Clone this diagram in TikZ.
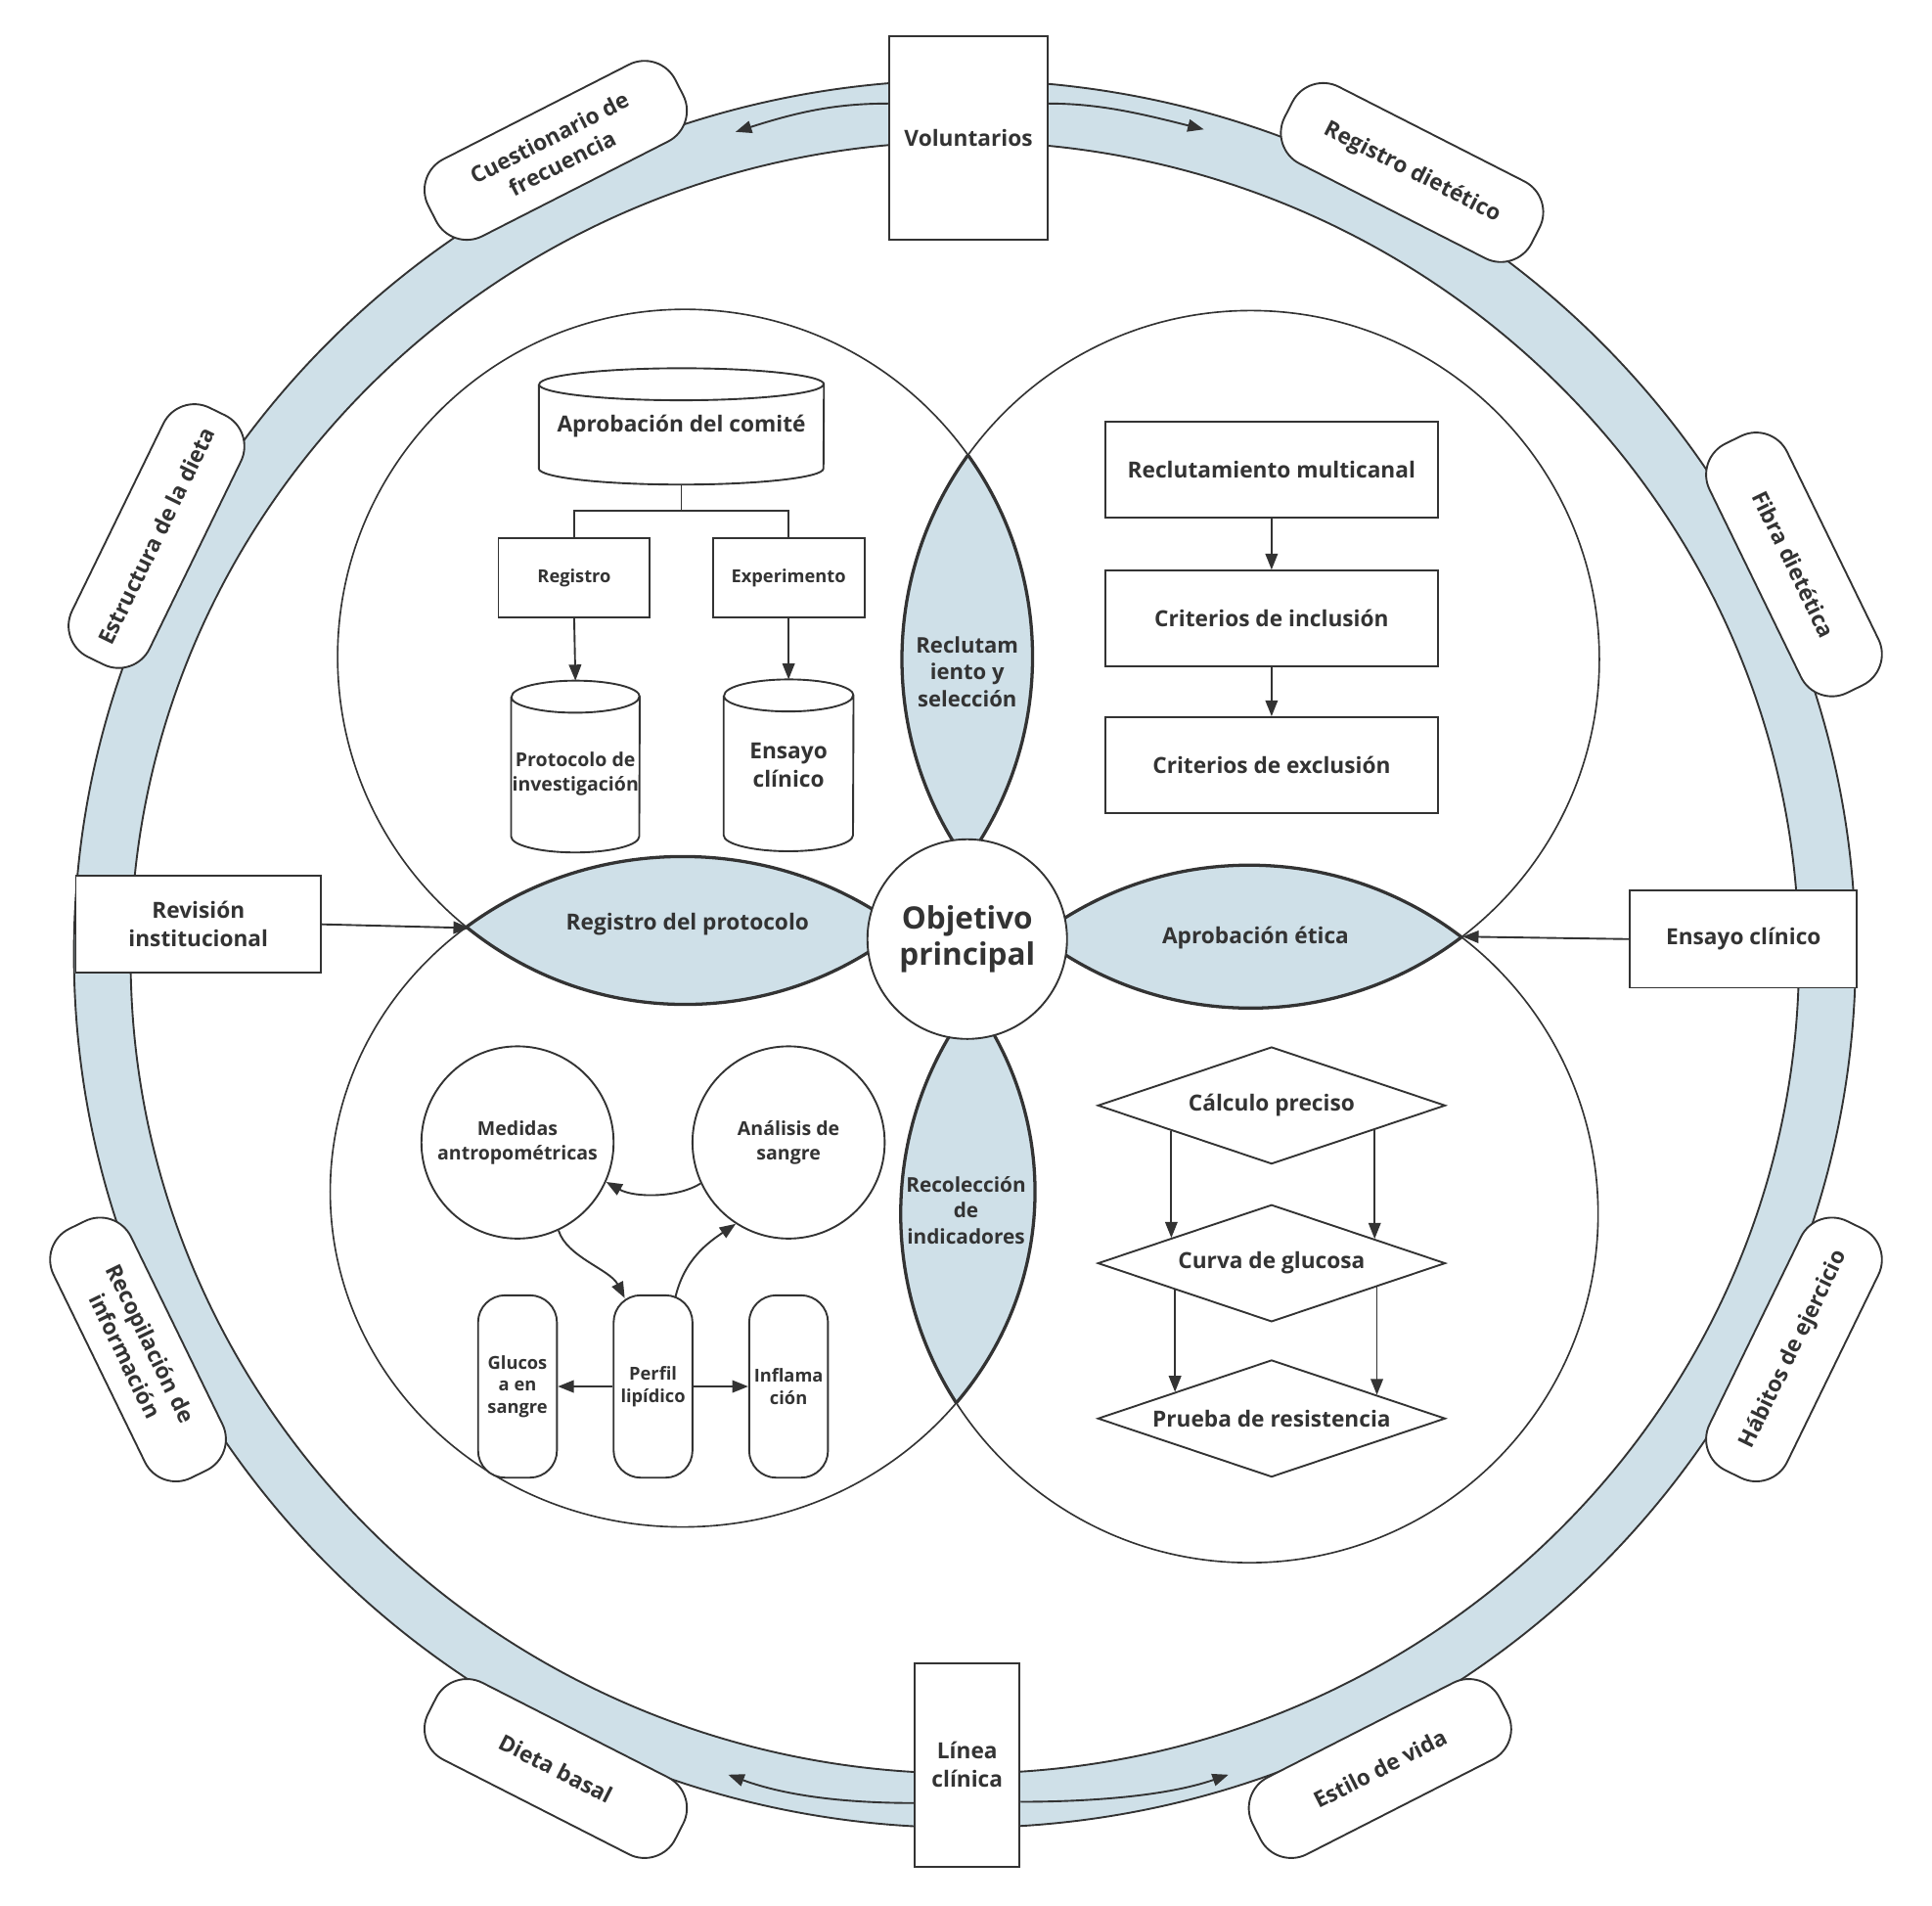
\documentclass[tikz,border=0pt]{standalone}
\usepackage{fontspec}
\setmainfont{Open Sans}
\usetikzlibrary{shapes.geometric,arrows.meta,calc}
\definecolor{ringblue}{HTML}{CFE0E8}
\definecolor{ink}{HTML}{333333}
\newcommand\fA{\fontsize{18}{23}\selectfont\bfseries}
\newcommand\fL{\fontsize{17.5}{22}\selectfont\bfseries}
\newcommand\fLb{\fontsize{16.5}{21}\selectfont\bfseries}
\newcommand\fObj{\fontsize{25}{30}\selectfont\bfseries}
\newcommand\fS{\fontsize{14.5}{18}\selectfont\bfseries}
\newcommand\fM{\fontsize{15.5}{20}\selectfont\bfseries}
% cylinder outline around a named (undrawn) node: name, half width, end radius
\newcommand\drawcyl[3]{%
  \draw[conn]
    ([yshift=-#3pt]#1.north west) -- ([yshift=#3pt]#1.south west)
    arc[start angle=180, end angle=360, x radius=#2pt, y radius=#3pt]
    -- ([yshift=-#3pt]#1.north east)
    arc[start angle=0, end angle=180, x radius=#2pt, y radius=#3pt]
    ([yshift=-#3pt]#1.north west)
    arc[start angle=180, end angle=360, x radius=#2pt, y radius=#3pt];}
\begin{document}
\begin{tikzpicture}[x=1pt,y=-1pt,color=ink,
  conn/.style={line width=1.5pt},
  lens/.style={line width=2.6pt},
  box/.style={draw, fill=white, line width=1.5pt, align=center, inner sep=0pt, font=\fA},
  pill/.style={box, rounded corners=28pt, minimum width=225pt, minimum height=70pt},
  tag/.style={align=center, inner sep=0pt, font=\fA},
  dia/.style={diamond, draw, fill=white, aspect=2.97, minimum width=282pt, minimum height=95pt, inner sep=0pt, line width=1.5pt, font=\fA},
  tube/.style={box, rounded corners=22pt, minimum width=64pt, minimum height=148pt, font=\fS},
  arr/.style={line width=1.5pt, -{Triangle[length=13pt,width=10pt]}}]
\fill[white] (0,0) rectangle (1568,1546);
\useasboundingbox (0,0) rectangle (1568,1546);

% outer ring
\fill[ringblue, even odd rule] (783,774) ellipse[x radius=723, y radius=709] (783,777) ellipse[x radius=677, y radius=662];
\draw[conn] (783,774) ellipse[x radius=723, y radius=709];
\draw[conn] (783,777) ellipse[x radius=677, y radius=662];

% four circles
\coordinate (cTL) at (556,533);
\coordinate (cTR) at (1015,535);
\coordinate (cBL) at (554,967);
\coordinate (cBR) at (1014,985);
\draw[line width=1.3pt] (cTL) circle[radius=282];
\draw[line width=1.3pt] (cTR) circle[radius=283];
\draw[line width=1.3pt] (cBL) ellipse[x radius=286, y radius=272];
\draw[line width=1.3pt] (cBR) circle[radius=283];

% lens fills
\begin{scope}
  \clip (cTL) circle[radius=282];
  \fill[ringblue] (cTR) circle[radius=283];
  \fill[ringblue] (cBL) ellipse[x radius=286, y radius=272];
\end{scope}
\begin{scope}
  \clip (cBR) circle[radius=283];
  \fill[ringblue] (cTR) circle[radius=283];
  \fill[ringblue] (cBL) ellipse[x radius=286, y radius=272];
\end{scope}
% lens outlines
\begin{scope}
  \clip (cTL) circle[radius=282];
  \draw[lens] (cTR) circle[radius=283];
  \draw[lens] (cBL) ellipse[x radius=286, y radius=272];
\end{scope}
\begin{scope}
  \clip (cBR) circle[radius=283];
  \draw[lens] (cTR) circle[radius=283];
  \draw[lens] (cBL) ellipse[x radius=286, y radius=272];
\end{scope}
\begin{scope}
  \clip (cTR) circle[radius=283];
  \draw[lens] (cTL) circle[radius=282];
  \draw[lens] (cBR) circle[radius=283];
\end{scope}
\begin{scope}
  \clip (cBL) ellipse[x radius=286, y radius=272];
  \draw[lens] (cTL) circle[radius=282];
  \draw[lens] (cBR) circle[radius=283];
\end{scope}

% lens labels
\node[tag, font=\fL] (lbT) at (785,545) {Reclutam\\iento y\\selección};
\node[tag] (lbL) at (558,750) {Registro del protocolo};
\node[tag] (lbR) at (1019,761) {Aprobación ética};
\node[tag, font=\fLb] (lbB) at (784,982) {Recolección\\de\\indicadores};

% centre
\node[circle, draw, fill=white, minimum size=162pt, inner sep=0pt, line width=1.5pt, font=\fObj, align=center] (obj) at (785,762) {Objetivo\\principal};

% top-left quadrant
\node[tag, minimum width=231pt, minimum height=94pt] (apro) at (553,346) {Aprobación del comité};
\drawcyl{apro}{115.5}{13}
\node[box, minimum width=123pt, minimum height=64pt, font=\fS] (reg) at (466,469) {Registro};
\node[box, minimum width=123pt, minimum height=64pt, font=\fS] (exper) at (640,469) {Experimento};
\node[minimum width=104pt, minimum height=139pt, inner sep=0pt] (prot) at (467,622) {};
\drawcyl{prot}{52}{13}
\node[tag, font=\fM] (protT) at (467,628) {Protocolo de\\investigación};
\node[tag, minimum width=105pt, minimum height=139pt, font=\fA] (ensc) at (640,621) {Ensayo\\clínico};
\drawcyl{ensc}{52.5}{13}
\draw[conn] (apro.south) -- ++(0,21) coordinate (fork);
\draw[conn] (fork) -| (reg.north);
\draw[conn] (fork) -| (exper.north);
\draw[arr] (reg.south) -- (prot.north);
\draw[arr] (exper.south) -- (ensc.north);

% top-right quadrant
\node[box, minimum width=270pt, minimum height=78pt] (rm) at (1032,381) {Reclutamiento multicanal};
\node[box, minimum width=270pt, minimum height=78pt] (ci) at (1032,502) {Criterios de inclusión};
\node[box, minimum width=270pt, minimum height=78pt] (ce) at (1032,621) {Criterios de exclusión};
\draw[arr] (rm) -- (ci);
\draw[arr] (ci) -- (ce);

% bottom-right quadrant
\node[dia] (d1) at (1032,897) {Cálculo preciso};
\node[dia] (d2) at (1032,1025) {Curva de glucosa};
\node[dia] (d3) at (1032,1151) {Prueba de resistencia};
\draw[arr] ($(d1.west)!0.426!(d1.south)$) -- ($(d2.west)!0.426!(d2.north)$);
\draw[arr] ($(d1.east)!0.41!(d1.south)$) -- ($(d2.east)!0.41!(d2.north)$);
\draw[arr] ($(d2.west)!0.447!(d2.south)$) -- ($(d3.west)!0.447!(d3.north)$);
\draw[arr] ($(d2.east)!0.397!(d2.south)$) -- ($(d3.east)!0.397!(d3.north)$);

% bottom-left quadrant
\node[circle, draw, minimum size=156pt, inner sep=0pt, line width=1.5pt, font=\fM, align=center] (med) at (420,927) {Medidas\\antropométricas};
\node[circle, draw, minimum size=156pt, inner sep=0pt, line width=1.5pt, font=\fM, align=center] (ana) at (640,927) {Análisis de\\sangre};
\node[tube] (glu) at (420,1125) {Glucos\\a en\\sangre};
\node[tube] (perf) at (530,1125) {Perfil\\lipídico};
\node[tube] (inf) at (640,1125) {Inflama\\ción};
\draw[arr] (ana.205) .. controls (550,972) and (515,972) .. (med.336);
\draw[arr] (med.295) .. controls (460,1020) and (495,1030) .. ([xshift=-23pt,yshift=-3pt]perf.north);
\draw[arr] ([xshift=18pt,yshift=-3pt]perf.north) .. controls (555,1022) and (575,1008) .. (ana.237);
\draw[arr] (perf.west) -- (glu.east);
\draw[arr] (perf.east) -- (inf.west);

% ring nodes
\node[box, minimum width=128pt, minimum height=165pt] (vol) at (786,112) {Voluntarios};
\node[box, minimum width=85pt, minimum height=165pt] (lin) at (785,1432) {Línea\\clínica};
\node[box, minimum width=199pt, minimum height=79pt] (rev) at (161,750) {Revisión\\institucional};
\node[box, minimum width=184pt, minimum height=79pt] (ens) at (1415,762) {Ensayo clínico};

\node[pill, rotate=27] (cue) at (451,122) {Cuestionario de\\frecuencia};
\node[pill, rotate=-27] (regd) at (1146,140) {Registro dietético};
\node[pill, rotate=64] (estr) at (127,435) {Estructura de la dieta};
\node[pill, rotate=-64] (fib) at (1456,458) {Fibra dietética};
\node[pill, rotate=-64] (reco) at (112,1095) {Recopilación de\\información};
\node[pill, rotate=64] (hab) at (1456,1095) {Hábitos de ejercicio};
\node[pill, rotate=-27] (dieta) at (451,1435) {Dieta basal};
\node[pill, rotate=27] (estv) at (1120,1435) {Estilo de vida};

% ring connectors
\coordinate (volLt) at (597,107);
\coordinate (volRt) at (977,105);
\coordinate (linLt) at (591,1440);
\coordinate (linRt) at (997,1440);
\draw[arr] ([yshift=28pt]vol.west) .. controls (680,84) and (650,90) .. (volLt);
\draw[arr] ([yshift=28pt]vol.east) .. controls (892,84) and (925,92) .. (volRt);
\draw[arr] ([yshift=-31pt]lin.west) .. controls (690,1463) and (640,1458) .. (linLt);
\draw[arr] ([yshift=-30pt]lin.east) .. controls (880,1462) and (945,1458) .. (linRt);

% side connectors
\coordinate (tipL) at (381,753);
\coordinate (tipR) at (1187,760);
\draw[arr] (rev.east) -- (tipL);
\draw[arr] (ens.west) -- (tipR);
\end{tikzpicture}
\end{document}
